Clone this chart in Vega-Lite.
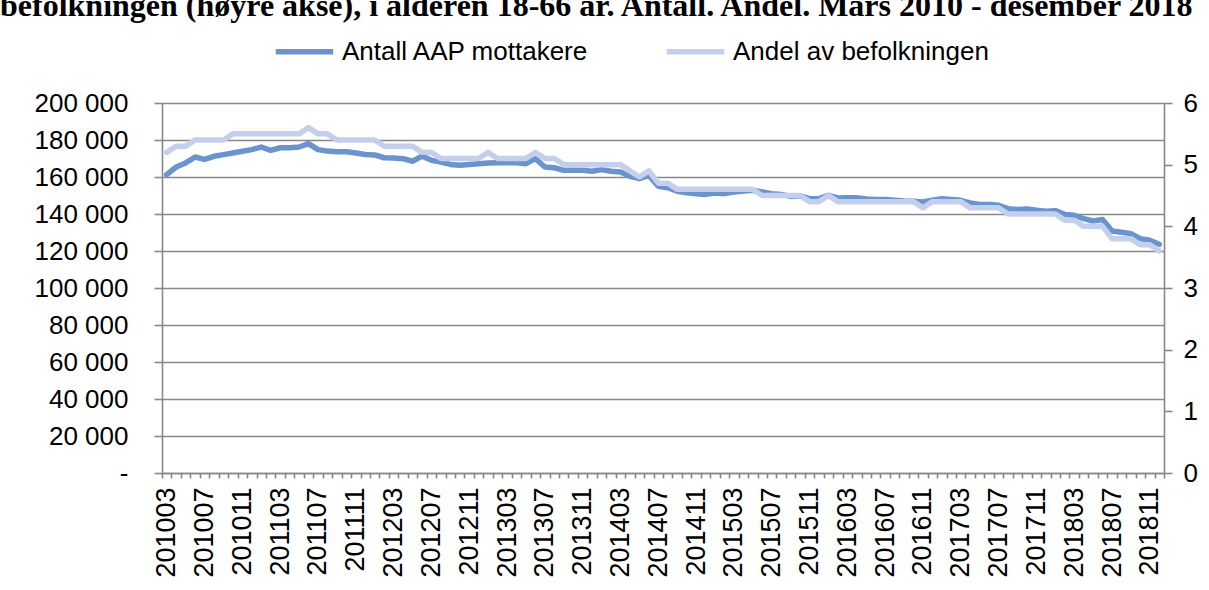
{
  "$schema": "https://vega.github.io/schema/vega-lite/v6.json",
  "width": 1002,
  "height": 370,
  "autosize": {"type": "none"},
  "padding": {"left": 162, "top": 103, "right": 45, "bottom": 117},
  "background": "white",
  "config": {
    "view": {"stroke": null},
    "axis": {
      "domainColor": "#888888", "tickColor": "#888888", "gridColor": "#888888",
      "domainWidth": 1.6, "tickWidth": 1.6, "gridWidth": 1.6,
      "labelColor": "black", "labelFont": "Liberation Sans", "labelFontSize": 26
    }
  },
  "title": {
    "text": "befolkningen (høyre akse), i alderen 18-66 år. Antall. Andel. Mars 2010 - desember 2018",
    "anchor": "start", "frame": "group", "orient": "top",
    "dx": -162, "dy": 30, "offset": 2, "baseline": "alphabetic",
    "font": "Liberation Serif", "fontSize": 32, "fontWeight": "bold", "color": "black"
  },
  "data": {"values": [
    {"m":"201003","aap":161300,"andel":5.2},{"m":"201004","aap":165400,"andel":5.3},{"m":"201005","aap":167600,"andel":5.3},
    {"m":"201006","aap":170800,"andel":5.4},{"m":"201007","aap":169500,"andel":5.4},{"m":"201008","aap":171200,"andel":5.4},
    {"m":"201009","aap":172100,"andel":5.4},{"m":"201010","aap":173000,"andel":5.5},{"m":"201011","aap":173900,"andel":5.5},
    {"m":"201012","aap":174800,"andel":5.5},{"m":"201101","aap":176200,"andel":5.5},{"m":"201102","aap":174400,"andel":5.5},
    {"m":"201103","aap":175800,"andel":5.5},{"m":"201104","aap":175800,"andel":5.5},{"m":"201105","aap":176200,"andel":5.5},
    {"m":"201106","aap":178000,"andel":5.6},{"m":"201107","aap":174800,"andel":5.5},{"m":"201108","aap":174000,"andel":5.5},
    {"m":"201109","aap":173700,"andel":5.4},{"m":"201110","aap":173700,"andel":5.4},{"m":"201111","aap":173000,"andel":5.4},
    {"m":"201112","aap":172200,"andel":5.4},{"m":"201201","aap":171900,"andel":5.4},{"m":"201202","aap":170400,"andel":5.3},
    {"m":"201203","aap":170300,"andel":5.3},{"m":"201204","aap":169900,"andel":5.3},{"m":"201205","aap":168500,"andel":5.3},
    {"m":"201206","aap":171300,"andel":5.2},{"m":"201207","aap":169000,"andel":5.2},{"m":"201208","aap":168100,"andel":5.1},
    {"m":"201209","aap":166800,"andel":5.1},{"m":"201210","aap":166300,"andel":5.1},{"m":"201211","aap":166800,"andel":5.1},
    {"m":"201212","aap":167200,"andel":5.1},{"m":"201301","aap":167600,"andel":5.2},{"m":"201302","aap":167700,"andel":5.1},
    {"m":"201303","aap":167700,"andel":5.1},{"m":"201304","aap":167700,"andel":5.1},{"m":"201305","aap":167200,"andel":5.1},
    {"m":"201306","aap":169900,"andel":5.2},{"m":"201307","aap":165400,"andel":5.1},{"m":"201308","aap":165000,"andel":5.1},
    {"m":"201309","aap":163600,"andel":5.0},{"m":"201310","aap":163600,"andel":5.0},{"m":"201311","aap":163600,"andel":5.0},
    {"m":"201312","aap":163100,"andel":5.0},{"m":"201401","aap":164000,"andel":5.0},{"m":"201402","aap":163100,"andel":5.0},
    {"m":"201403","aap":162700,"andel":5.0},{"m":"201404","aap":160400,"andel":4.9},{"m":"201405","aap":159100,"andel":4.8},
    {"m":"201406","aap":160900,"andel":4.9},{"m":"201407","aap":155000,"andel":4.7},{"m":"201408","aap":154200,"andel":4.7},
    {"m":"201409","aap":152300,"andel":4.6},{"m":"201410","aap":151500,"andel":4.6},{"m":"201411","aap":151000,"andel":4.6},
    {"m":"201412","aap":150600,"andel":4.6},{"m":"201501","aap":151400,"andel":4.6},{"m":"201502","aap":151000,"andel":4.6},
    {"m":"201503","aap":151900,"andel":4.6},{"m":"201504","aap":152400,"andel":4.6},{"m":"201505","aap":152800,"andel":4.6},
    {"m":"201506","aap":151900,"andel":4.5},{"m":"201507","aap":151000,"andel":4.5},{"m":"201508","aap":150600,"andel":4.5},
    {"m":"201509","aap":149500,"andel":4.5},{"m":"201510","aap":149800,"andel":4.5},{"m":"201511","aap":148300,"andel":4.4},
    {"m":"201512","aap":148300,"andel":4.4},{"m":"201601","aap":150100,"andel":4.5},{"m":"201602","aap":148700,"andel":4.4},
    {"m":"201603","aap":148800,"andel":4.4},{"m":"201604","aap":148800,"andel":4.4},{"m":"201605","aap":148100,"andel":4.4},
    {"m":"201606","aap":147900,"andel":4.4},{"m":"201607","aap":147900,"andel":4.4},{"m":"201608","aap":147400,"andel":4.4},
    {"m":"201609","aap":147000,"andel":4.4},{"m":"201610","aap":146900,"andel":4.4},{"m":"201611","aap":146500,"andel":4.3},
    {"m":"201612","aap":147400,"andel":4.4},{"m":"201701","aap":148300,"andel":4.4},{"m":"201702","aap":147800,"andel":4.4},
    {"m":"201703","aap":147400,"andel":4.4},{"m":"201704","aap":146000,"andel":4.3},{"m":"201705","aap":145200,"andel":4.3},
    {"m":"201706","aap":145200,"andel":4.3},{"m":"201707","aap":144700,"andel":4.3},{"m":"201708","aap":142900,"andel":4.2},
    {"m":"201709","aap":142500,"andel":4.2},{"m":"201710","aap":142700,"andel":4.2},{"m":"201711","aap":142000,"andel":4.2},
    {"m":"201712","aap":141500,"andel":4.2},{"m":"201801","aap":141800,"andel":4.2},{"m":"201802","aap":139800,"andel":4.1},
    {"m":"201803","aap":139300,"andel":4.1},{"m":"201804","aap":137500,"andel":4.0},{"m":"201805","aap":136200,"andel":4.0},
    {"m":"201806","aap":137000,"andel":4.0},{"m":"201807","aap":130800,"andel":3.8},{"m":"201808","aap":130100,"andel":3.8},
    {"m":"201809","aap":129400,"andel":3.8},{"m":"201810","aap":126700,"andel":3.7},{"m":"201811","aap":125800,"andel":3.7},
    {"m":"201812","aap":123600,"andel":3.6}
  ]},
  "encoding": {
    "x": {
      "field": "m", "type": "ordinal", "sort": null,
      "scale": {"type": "band", "paddingInner": 0, "paddingOuter": 0},
      "axis": {
        "title": null, "grid": false, "tickBand": "extent", "tickSize": 5,
        "labelAngle": 270, "labelAlign": "right", "labelBaseline": "middle",
        "labelPadding": 9, "labelOverlap": false, "labelFontSize": 27,
        "labelExpr": "(toNumber(substring(datum.value,4,6)) - 3) % 4 == 0 ? datum.value : ''"
      }
    }
  },
  "layer": [
    {
      "mark": {"type": "line", "strokeWidth": 5.5, "strokeJoin": "round", "strokeCap": "round"},
      "encoding": {
        "y": {
          "field": "aap", "type": "quantitative",
          "scale": {"domain": [0, 200000], "nice": false, "zero": true},
          "axis": {
            "orient": "left", "title": null, "grid": true, "tickSize": 8, "labelPadding": 26,
            "values": [0,20000,40000,60000,80000,100000,120000,140000,160000,180000,200000],
            "labelExpr": "datum.value == 0 ? '-' : replace(format(datum.value, ','), ',', ' ')"
          }
        },
        "color": {
          "datum": "Antall AAP mottakere",
          "scale": {"domain": ["Antall AAP mottakere", "Andel av befolkningen"], "range": ["#6B93CE", "#C4CFEB"]},
          "legend": {
            "orient": "none", "legendX": 111, "legendY": -83, "direction": "horizontal", "title": null,
            "symbolType": "stroke", "symbolStrokeWidth": 5.5, "symbolSize": 3300,
            "labelFont": "Liberation Sans", "labelFontSize": 26, "labelColor": "black", "labelLimit": 500,
            "labelOffset": 6, "columnPadding": 65
          }
        }
      }
    },
    {
      "mark": {"type": "line", "strokeWidth": 5.5, "strokeJoin": "round", "strokeCap": "round"},
      "encoding": {
        "y": {
          "field": "andel", "type": "quantitative",
          "scale": {"domain": [0, 6], "nice": false},
          "axis": {
            "orient": "right", "title": null, "grid": false, "tickSize": 8, "labelPadding": 11,
            "values": [0,1,2,3,4,5,6], "format": "d"
          }
        },
        "color": {"datum": "Andel av befolkningen"}
      }
    }
  ],
  "resolve": {"scale": {"y": "independent"}, "axis": {"y": "independent"}}
}
